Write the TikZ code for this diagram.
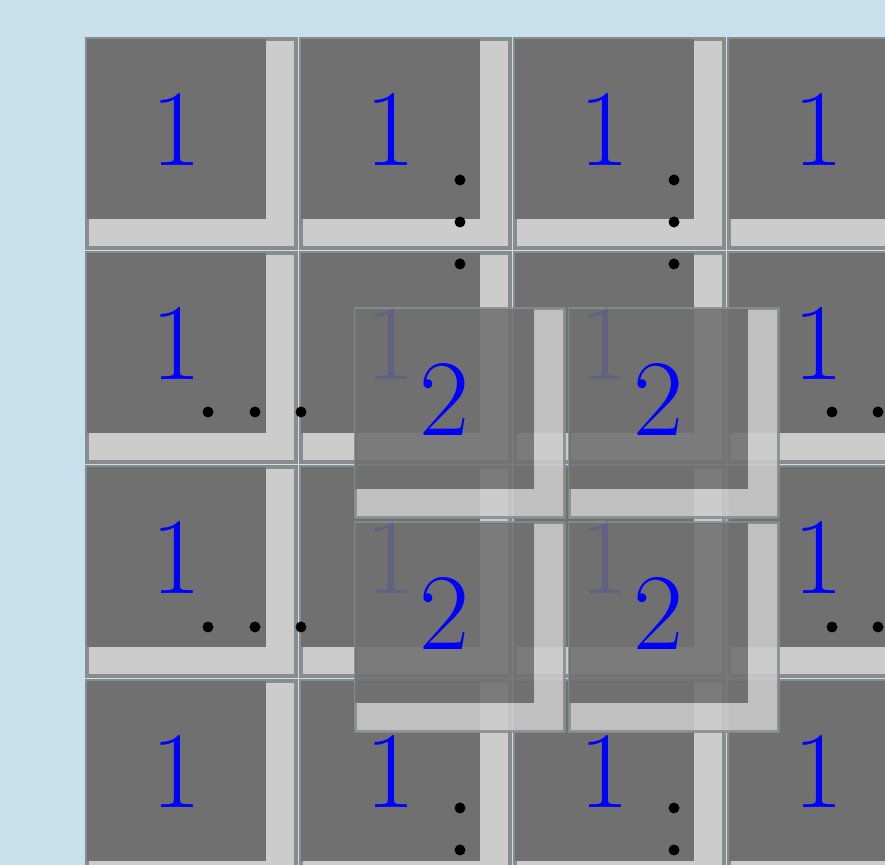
\documentclass[tikz,border=0pt]{standalone}
\usepackage{tikz}
\definecolor{SkyBG}{HTML}{C8DFEC}
\definecolor{TileDark}{HTML}{707070}
\definecolor{TileLight}{HTML}{CCCCCC}
\definecolor{TileEdge}{HTML}{898C8C}
\definecolor{DigitBlue}{HTML}{0000FF}

\begin{document}
\begin{tikzpicture}[
    x=0.01cm, y=-0.01cm,
    lshade/.style={fill=TileLight},
    frame/.style={draw=TileEdge, line width=0.045cm},
    cell/.style={fill=TileDark},
    num/.style={text=DigitBlue, inner sep=0pt, font=\fontsize{31}{37}\selectfont},
    dot/.style={fill=black},
    faded/.style={fill opacity=0.87, draw opacity=0.87}
]

\clip (0,0) rectangle (885,865);
\fill[SkyBG] (0,0) rectangle (885,865);

% input grid of ones
\foreach \i in {0,...,3}
  \foreach \j in {0,...,3} {
    \fill[lshade] (87+214*\i+179,39+214*\j) -- ++(30,0) -- ++(0,209) -- ++(-209,0)
                  -- ++(0,-29) -- ++(179,0) -- cycle;
    \draw[frame] (87+214*\i,39+214*\j) rectangle ++(209,209);
    \fill[cell] (87+214*\i,39+214*\j) rectangle ++(179,180);
    \node[num] (n\j\i) at (176.5+214*\i,129+214*\j) {1};
  }

% ellipsis dots
\foreach \x in {460,674}
  \foreach \y in {180,222,264,808,850,892}
    \fill[dot] (\x,\y) circle (5.5);
\foreach \y in {412,627}
  \foreach \x in {208,255,301,832,878,925}
    \fill[dot] (\x,\y) circle (5.5);

% output window of twos
\begin{scope}[faded]
\foreach \i in {0,1}
  \foreach \j in {0,1} {
    \fill[lshade] (355+214*\i+179,309+214*\j) -- ++(30,0) -- ++(0,209) -- ++(-209,0)
                  -- ++(0,-29) -- ++(179,0) -- cycle;
    \draw[frame, line width=0.03cm] (355+214*\i,309+214*\j) rectangle ++(209,209);
    \fill[cell] (355+214*\i,309+214*\j) rectangle ++(179,180);
  }
\end{scope}
\foreach \i in {0,1}
  \foreach \j in {0,1}
    \node[num] (m\j\i) at (444.5+214*\i,399+214*\j) {2};

\end{tikzpicture}
\end{document}
